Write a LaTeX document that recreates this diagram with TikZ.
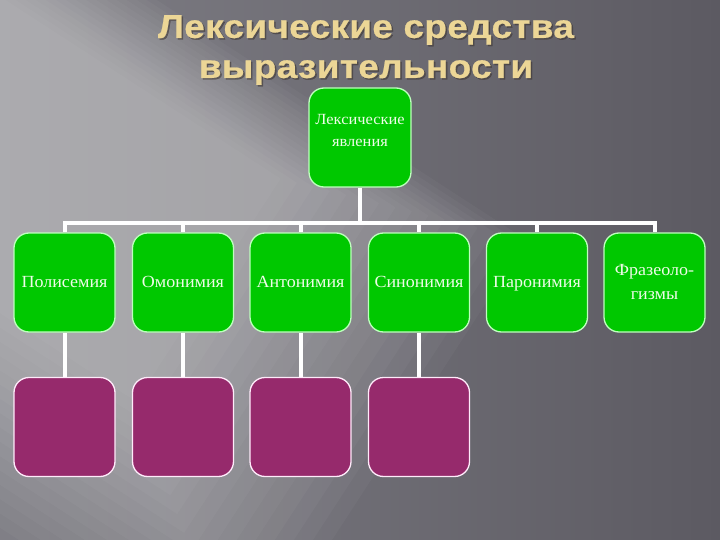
\documentclass[tikz,border=0pt]{standalone}
\usepackage{fontspec}
\setmainfont{Liberation Serif}
\newfontfamily\titlefont[FakeStretch=1.12,LetterSpace=1.0,FakeBold=0.6]{Liberation Sans}
\newfontfamily\boxfont[FakeStretch=1.06]{Liberation Serif}
\definecolor{bgdark}{RGB}{92,90,98}
\definecolor{bgleft}{RGB}{128,127,134}
\definecolor{titlecol}{RGB}{236,214,150}
\definecolor{shadowcol}{RGB}{60,52,48}
\definecolor{boxgreen}{RGB}{0,200,0}
\definecolor{greenedge}{RGB}{190,255,190}
\definecolor{boxpurple}{RGB}{150,42,108}
\definecolor{purpleedge}{RGB}{255,235,250}
\definecolor{boxtext}{RGB}{238,252,232}
\pgfdeclarelayer{bg}
\pgfdeclarelayer{links}
\pgfsetlayers{bg,links,main}
\tikzset{
  greenbox/.style={draw=greenedge, line width=1.3pt, fill=boxgreen, rounded corners=15pt,
    minimum width=101pt, minimum height=99pt, inner sep=2pt, align=center,
    text=boxtext, font=\boxfont\fontsize{17}{24}\selectfont},
  purplebox/.style={draw=purpleedge, line width=1.3pt, fill=boxpurple, rounded corners=15pt,
    minimum width=101pt, minimum height=99pt},
  conn/.style={draw=white, line width=4pt},
  titletext/.style={align=center, font=\titlefont\bfseries\fontsize{33}{40}\selectfont}
}
\begin{document}
\begin{tikzpicture}[x=1pt,y=-1pt]
\useasboundingbox (0,0) rectangle (720,540);
% background
\begin{pgfonlayer}{bg}
\shade[left color=bgleft, right color=bgdark] (0,0) rectangle (720,540);
\begin{scope}
\clip (0,0) rectangle (720,540);
\begin{scope}[shift={(0,170)}, rotate=-33]
\foreach \i in {0,...,15} {
  \fill[white, opacity=0.03] (-400,-228+5.5*\i) rectangle (480-16*\i,300-12*\i);
}
\end{scope}
\end{scope}
\end{pgfonlayer}
% title
\node[titletext, text=shadowcol, opacity=0.55] at (367.5,51.5) {Лексические средства\\выразительности};
\node[titletext, text=titlecol] (title) at (366,50) {Лексические средства\\выразительности};
% top box
\node[greenbox, minimum width=102pt] (top) at (360,137.5)
  {\raisebox{6.5pt}[\height][\depth]{\fontsize{15.5}{22}\selectfont\begin{tabular}{@{}c@{}}Лексические\\явления\end{tabular}}};
% second row
\node[greenbox] (g1) at (64.5,282.5) {\strut Полисемия};
\node[greenbox] (g2) at (183,282.5) {\strut Омонимия};
\node[greenbox] (g3) at (300.5,282.5) {\strut Антонимия};
\node[greenbox] (g4) at (419,282.5) {\strut Синонимия};
\node[greenbox] (g5) at (537,282.5) {\strut Паронимия};
\node[greenbox] (g6) at (654.5,282.5) {Фразеоло-\\гизмы};
% third row
\node[purplebox] (p1) at (64.5,427) {};
\node[purplebox] (p2) at (183,427) {};
\node[purplebox] (p3) at (300.5,427) {};
\node[purplebox] (p4) at (419,427) {};
% connectors
\begin{pgfonlayer}{links}
\coordinate (bar) at (360,223);
\draw[conn] (top.south) -- (bar);
\foreach \g in {g1,g2,g3,g4,g5,g6} {\draw[conn] (bar) -| (\g.north);}
\draw[conn] (g1.south) -- (p1.north);
\draw[conn] (g2.south) -- (p2.north);
\draw[conn] (g3.south) -- (p3.north);
\draw[conn] (g4.south) -- (p4.north);
\end{pgfonlayer}
\end{tikzpicture}
\end{document}
